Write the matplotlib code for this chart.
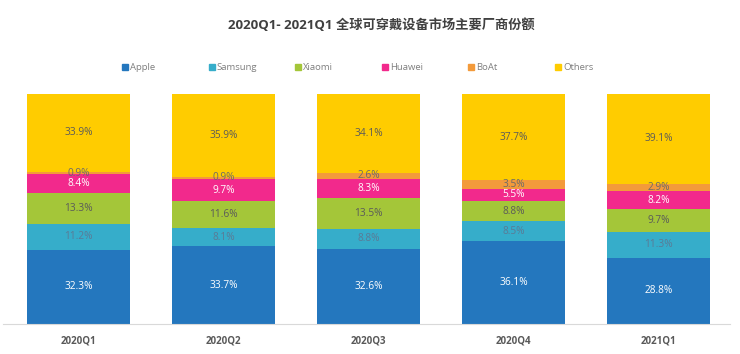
import numpy as np
import matplotlib.pyplot as plt
from matplotlib.patches import Rectangle

plt.rcParams['font.family'] = ['Open Sans', 'Noto Sans CJK SC', 'DejaVu Sans']

quarters = ["2020Q1", "2020Q2", "2020Q3", "2020Q4", "2021Q1"]
series = ["Apple", "Samsung", "Xiaomi", "Huawei", "BoAt", "Others"]
apple = [32.3, 33.7, 32.6, 36.1, 28.8]
samsung = [11.2, 8.1, 8.8, 8.5, 11.3]
xiaomi = [13.3, 11.6, 13.5, 8.8, 9.7]
huawei = [8.4, 9.7, 8.3, 5.5, 8.2]
boat = [0.9, 0.9, 2.6, 3.5, 2.9]
others = [33.9, 35.9, 34.1, 37.7, 39.1]

values = [apple, samsung, xiaomi, huawei, boat, others]
colors = ["#2477BE", "#36ADCA", "#A4C639", "#F2298C", "#F39A3B", "#FFCC00"]
label_colors = ["white", "#5B7A95", "#5A5A5A", "white", "#6A6A6A", "#5A5A5A"]

fig = plt.figure(figsize=(7.4, 3.54), dpi=100)
ax = fig.add_axes([3 / 740, 1 - 324 / 354, 727 / 740, 230 / 354])

x = np.arange(len(quarters))
bottom = np.zeros(len(quarters))
for vals, col, lcol in zip(values, colors, label_colors):
    vals = np.array(vals)
    ax.bar(x, vals, 0.71, bottom=bottom, color=col, linewidth=0)
    for xi, b, v in zip(x, bottom, vals):
        ax.text(xi, b + v / 2, f"{v:.1f}%", ha='center', va='center',
                fontsize=7.3, color=lcol)
    bottom += vals

ax.set_xlim(-0.52, 4.49)
ax.set_ylim(0, 100)
ax.set_yticks([])
ax.set_xticks(x)
ax.set_xticklabels(quarters, fontsize=7, fontweight='bold', color='#595959')
ax.tick_params(axis='x', length=0, pad=8)
for s in ['top', 'right', 'left']:
    ax.spines[s].set_visible(False)
ax.spines['bottom'].set_color('#D9D9D9')
ax.spines['bottom'].set_linewidth(0.8)

# legend row
for i, (name, col) in enumerate(zip(series, colors)):
    lx = (122 + i * 86.6) / 740
    ly = 1 - 70 / 354
    fig.patches.append(Rectangle((lx, ly), 6 / 740, 6 / 354, color=col,
                                 transform=fig.transFigure, figure=fig))
    fig.text(lx + 8 / 740, ly + 3 / 354, name, fontsize=6.8, color='#7F7F7F',
             va='center', ha='left')

fig.text(0.515, 1 - 25 / 354, "2020Q1- 2021Q1 全球可穿戴设备市场主要厂商份额",
         ha='center', va='center', fontsize=9.5, fontweight='bold', color='#404040')

fig.savefig("out.png", dpi=100)
